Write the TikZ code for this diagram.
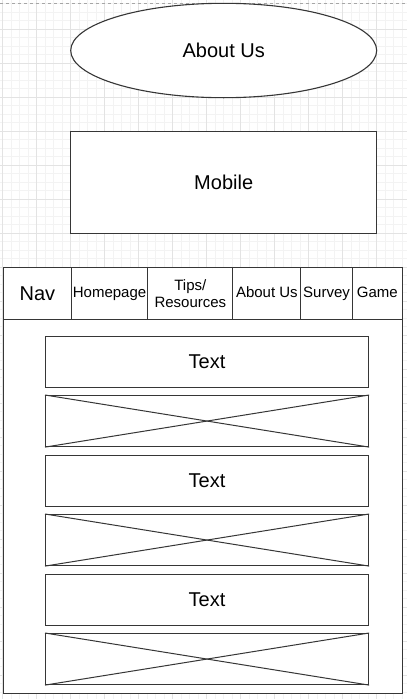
\documentclass[tikz,border=0pt]{standalone}
\usepackage{fontspec}
\setmainfont{Liberation Sans}
\usetikzlibrary{shapes.geometric}
\definecolor{edgegray}{HTML}{363636}
\definecolor{gridminor}{HTML}{F3F3F3}
\definecolor{gridmajor}{HTML}{E3E3E3}
\tikzset{
  wire/.style={draw=edgegray, line width=1.1pt, fill=white, inner sep=0pt},
  bigtext/.style={font=\fontsize{20}{23}\selectfont},
  navtext/.style={font=\fontsize{15}{17.5}\selectfont, align=center},
  cell/.style={wire, navtext, anchor=north west, minimum height=51.7pt},
  onecell/.style={cell, text height=11pt, text depth=3pt},
  block/.style={wire, bigtext, anchor=north west, minimum width=323pt, minimum height=51pt},
}

\begin{document}
\begin{tikzpicture}[x=1pt,y=-1pt]
  \useasboundingbox[fill=white] (0,0) rectangle (407,699);
  % background grid
  \foreach \i in {0,...,47} \draw[gridminor, line width=0.8pt] ({2.7+8.5*\i},0) -- ({2.7+8.5*\i},699);
  \foreach \i in {0,...,82} \draw[gridminor, line width=0.8pt] (0,{3.8+8.5*\i}) -- (407,{3.8+8.5*\i});
  \foreach \i in {0,...,12} \draw[gridmajor, line width=0.8pt] ({2.7+34*\i},0) -- ({2.7+34*\i},699);
  \foreach \i in {0,...,20} \draw[gridmajor, line width=0.8pt] (0,{29.3+34*\i}) -- (407,{29.3+34*\i});
  \draw[gray!70, dashed, line width=0.8pt] (0,3) -- (407,3);

  \node[wire, ellipse, bigtext, minimum width=306pt, minimum height=94.4pt] (aboutus) at (223.7,50.5) {About Us};
  \node[wire, bigtext, minimum width=306pt, minimum height=102pt] (mobile) at (223.7,182.3) {Mobile};

  % page frame and nav bar
  \node[wire, anchor=north west, minimum width=398.7pt, minimum height=425.4pt] (frame) at (3,267.3) {};
  \node[cell, bigtext, minimum width=67.7pt] (nav) at (3,267.3) {Nav};
  \node[onecell, minimum width=76.6pt] (home) at (70.7,267.3) {Homepage};
  \node[cell, minimum width=85pt] (tips) at (147.3,267.3) {Tips/\\Resources};
  \node[onecell, minimum width=68pt] (about) at (232.3,267.3) {About Us};
  \node[onecell, minimum width=51.4pt] (survey) at (300.3,267.3) {Survey};
  \node[onecell, minimum width=50pt] (game) at (351.7,267.3) {Game};

  % content blocks
  \node[block] (text1) at (45,335.5) {Text};
  \node[block] (img1) at (45,395) {};
  \node[block] (text2) at (45,454.5) {Text};
  \node[block] (img2) at (45,514) {};
  \node[block] (text3) at (45,573.5) {Text};
  \node[block] (img3) at (45,633) {};
  \foreach \b in {img1,img2,img3} {
    \draw[edgegray, line width=1pt] (\b.north west) -- (\b.south east);
    \draw[edgegray, line width=1pt] (\b.south west) -- (\b.north east);
  }
\end{tikzpicture}
\end{document}
